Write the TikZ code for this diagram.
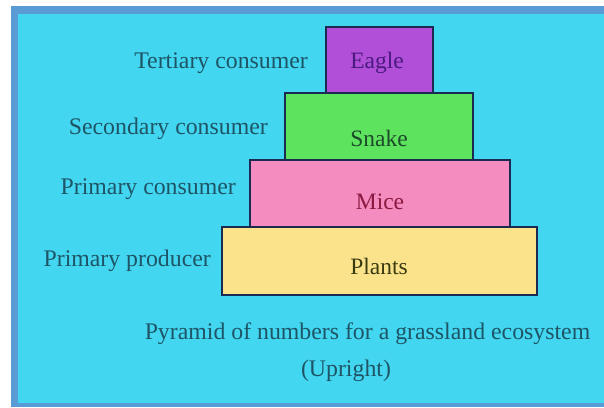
\documentclass[tikz,border=0pt]{standalone}
\usepackage{fontspec}
\setmainfont{Liberation Serif}
\definecolor{bgcyan}{HTML}{42D6F0}
\definecolor{frameblue}{HTML}{5B9BD5}
\definecolor{labelc}{HTML}{1E5566}
\definecolor{eaglef}{HTML}{B24FD8}
\definecolor{eaglet}{HTML}{4A1A80}
\definecolor{snakef}{HTML}{5EE35E}
\definecolor{snaket}{HTML}{1C4A2A}
\definecolor{micef}{HTML}{F48CBF}
\definecolor{micet}{HTML}{8B1A40}
\definecolor{plantf}{HTML}{FBE38C}
\definecolor{plantt}{HTML}{3A3A10}
\definecolor{edgec}{HTML}{1A2A50}
\begin{document}
\begin{tikzpicture}[x=1pt,y=-1pt,
  level/.style={draw=edgec,line width=2pt},
  lvltext/.style={inner sep=0pt,font=\fontsize{23.5}{27}\selectfont},
  sidelabel/.style={inner sep=0pt,anchor=east,text=labelc,font=\fontsize{23.8}{27}\selectfont},
  captext/.style={inner sep=0pt,text=labelc,font=\fontsize{23.8}{27}\selectfont}]
\useasboundingbox (0,0) rectangle (604,407);
\fill[white] (0,0) rectangle (604,407);
\fill[frameblue] (11,6) rectangle (604,407);
\fill[bgcyan] (18,14) rectangle (604,403);
% levels
\draw[level,fill=plantf] (222,227) rectangle (537,295);
\draw[level,fill=micef] (250,160) rectangle (510,227);
\draw[level,fill=snakef] (285,93) rectangle (473,160);
\draw[level,fill=eaglef] (326,27) rectangle (433,93);
\node[lvltext,text=eaglet] (eagle) at (377,63) {Eagle};
\node[lvltext,text=snaket] (snake) at (379,138) {Snake};
\node[lvltext,text=micet] (mice) at (380,202) {Mice};
\node[lvltext,text=plantt] (plants) at (379,266) {Plants};
% side labels
\node[sidelabel] (tert) at (308,63) {Tertiary consumer};
\node[sidelabel] (sec) at (268,129) {Secondary consumer};
\node[sidelabel] (prim) at (236,189) {Primary consumer};
\node[sidelabel] (prod) at (211,261) {Primary producer};
% caption
\node[captext] (cap) at (367.5,334) {Pyramid of numbers for a grassland ecosystem};
\node[captext] (upr) at (346,371) {(Upright)};
\end{tikzpicture}
\end{document}
